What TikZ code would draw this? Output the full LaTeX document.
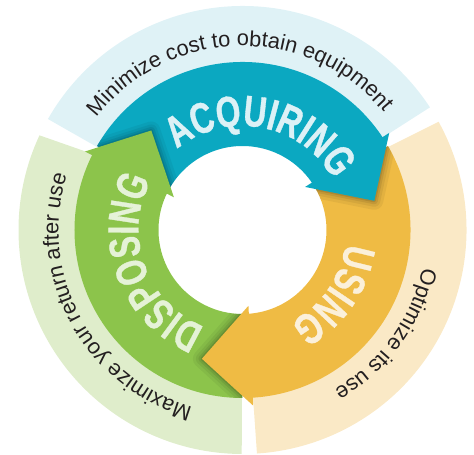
\documentclass[tikz,border=0pt]{standalone}
\usepackage{fontspec}
\setmainfont{Liberation Sans}
\newfontfamily\lblfont[FakeStretch=0.73,FakeBold=0.8]{Liberation Sans}
\usetikzlibrary{decorations.text}
\definecolor{cBlue}{HTML}{0BA8C1}
\definecolor{cOrange}{HTML}{EFBB44}
\definecolor{cGreen}{HTML}{8CC44B}
\definecolor{pBlue}{HTML}{DFF2F6}
\definecolor{pOrange}{HTML}{FAE9C6}
\definecolor{pGreen}{HTML}{DFEDCB}
\definecolor{lBlue}{HTML}{DCF1F6}
\definecolor{lOrange}{HTML}{FBF0DA}
\definecolor{lGreen}{HTML}{E5F2D7}
\definecolor{txt}{HTML}{231F20}
\tikzset{
  outertext/.style={decorate, decoration={text along path, text align=center,
     text={|\fontsize{21.8}{24}\selectfont\color{txt}|#1}}},
  labeltext/.style 2 args={decorate, decoration={text along path, text align=center,
     text={|\lblfont\bfseries\fontsize{43.5}{46}\selectfont\color{#1}|#2}}},
  halo/.style={line join=round, black}
}
\begin{document}
\begin{tikzpicture}[x=1pt,y=1pt]
\useasboundingbox (-242.5,-225) rectangle (231.5,230);
% pale outer segments
\fill[pBlue] (150.3:224) arc[start angle=150.3,end angle=33.2,radius=224]
   -- (33.4:166) arc[start angle=33.4,end angle=150.3,radius=166] -- cycle;
\fill[pOrange] (28.9:224) arc[start angle=28.9,end angle=-86.3,radius=224]
   -- (-86.4:166) arc[start angle=-86.4,end angle=29.7,radius=166] -- cycle;
\fill[pGreen] (155:224) arc[start angle=155,end angle=269.8,radius=224]
   -- (269.8:166) arc[start angle=269.8,end angle=153,radius=166] -- cycle;
% outer texts
\path[outertext={Minimize cost to obtain equipment}] (181:184) arc[start angle=181,end angle=1,radius=184];
\path[outertext={Optimize its use}] (44:184) arc[start angle=44,end angle=-116,radius=184];
\path[outertext={Maximize your return after use}] (298.5:184) arc[start angle=298.5,end angle=118.5,radius=184];
% bands
\foreach \k/\col in {0/cBlue,-120/cOrange,120/cGreen}{
  \fill[\col] (150+\k:168) arc[start angle=150+\k,end angle=33+\k,radius=168]
     -- (33+\k:84) arc[start angle=33+\k,end angle=150+\k,radius=84] -- cycle;
}
% shadows of heads on the band beneath
\foreach \k in {0,-120,120}{
  \begin{scope}
    \clip (30+\k:168) arc[start angle=30+\k,end angle=-86+\k,radius=168]
       -- (-86+\k:84) arc[start angle=-86+\k,end angle=30+\k,radius=84] -- cycle;
    \foreach \w/\o in {18/0.05,12/0.06,7/0.08,3/0.1}{
      \draw[halo, line width=\w, opacity=\o] (33.5+\k:176) -- (12.5+\k:135) -- (34.5+\k:76) -- cycle;
    }
  \end{scope}
}
% heads
\foreach \k/\col in {0/cBlue,-120/cOrange,120/cGreen}{
  \fill[\col] (33.5+\k:176) -- (12.5+\k:135) -- (34.5+\k:76) -- cycle;
}
% labels
\path[labeltext={lBlue}{ACQUIRING}] (149:104) arc[start angle=149,end angle=9,radius=104];
\path[labeltext={lOrange}{USING}] (35:104) arc[start angle=35,end angle=-105,radius=104];
\path[labeltext={lGreen}{DISPOSING}] (270:104) arc[start angle=270,end angle=130,radius=104];
\end{tikzpicture}
\end{document}
